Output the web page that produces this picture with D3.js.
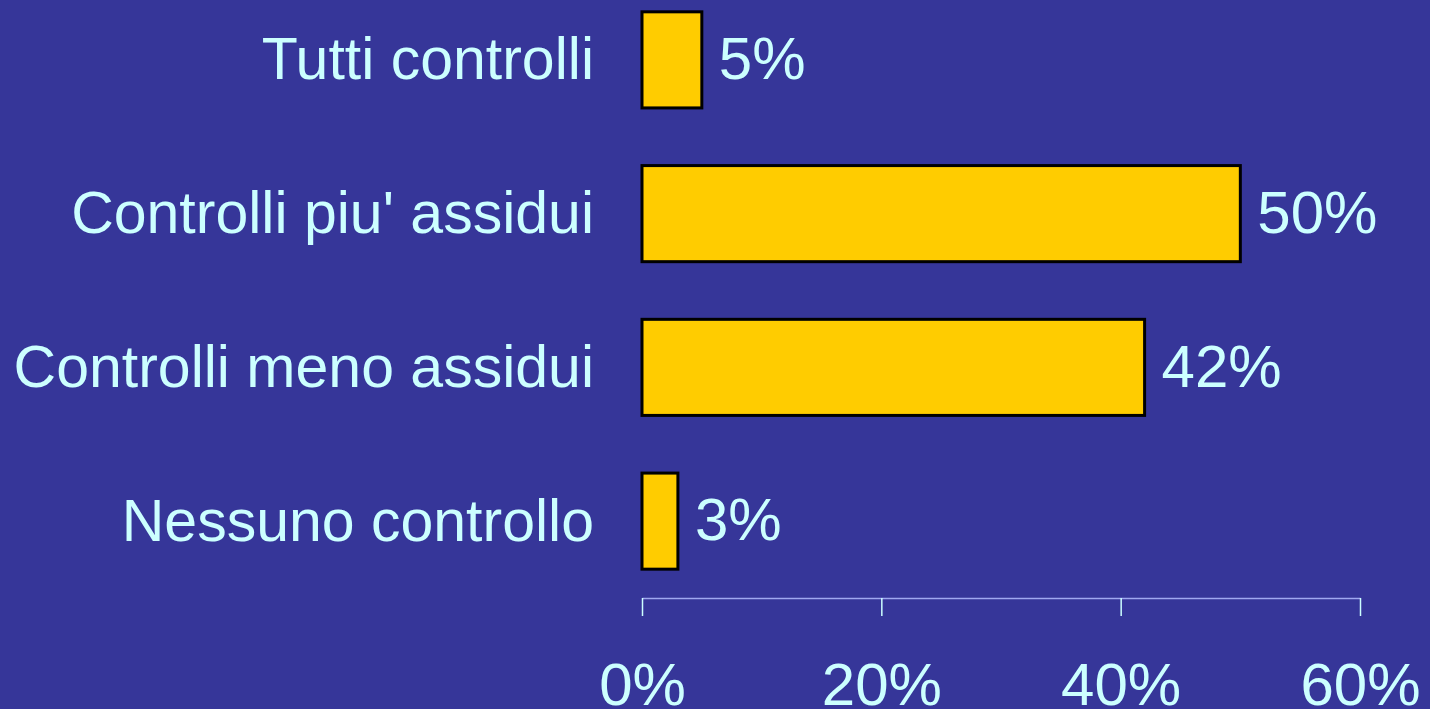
<!doctype html>
<html>
  <head>
    <meta charset="utf-8">
    <script src="https://cdn.jsdelivr.net/npm/d3@7"></script>
    <style>
      html, body { margin: 0; padding: 0; background: #363699; overflow: hidden; }
      text { font-family: "Liberation Sans", Arial, sans-serif; fill: #ccffff; }
    </style>
  </head>
  <body>
    <div id="chart"></div>
  </body>
  <script>
    var categories = ["Tutti controlli", "Controlli piu' assidui", "Controlli meno assidui", "Nessuno controllo"];
    var values = [5, 50, 42, 3];
    var ticks = [0, 20, 40, 60];

    var width = 1430,
      height = 709;

    var svg = d3.select("#chart")
                .append("svg")
                .attr("width", width)
                .attr("height", height);

    svg.append("rect")
       .attr("width", width)
       .attr("height", height)
       .attr("fill", "#363699");

    var x = d3.scaleLinear().domain([0, 60]).range([642, 1360]);
    var y = d3.scaleBand()
              .domain(categories)
              .range([-17, 598])
              .paddingInner(0.375)
              .paddingOuter(0.1875);

    var data = categories.map(function(c, i) { return { name: c, value: values[i] }; });

    // bars
    svg.selectAll("rect.bar")
       .data(data)
       .enter()
       .append("rect")
       .attr("class", "bar")
       .attr("x", x(0))
       .attr("y", function(d) { return y(d.name); })
       .attr("width", function(d) { return x(d.value) - x(0); })
       .attr("height", y.bandwidth())
       .attr("fill", "#ffcc00")
       .attr("stroke", "#000")
       .attr("stroke-width", 3);

    // value labels
    svg.selectAll("text.val")
       .data(data)
       .enter()
       .append("text")
       .attr("class", "val")
       .attr("x", function(d) { return x(d.value) + 17; })
       .attr("y", function(d) { return y(d.name) + y.bandwidth() / 2; })
       .attr("dy", "0.32em")
       .style("font-size", "60px")
       .text(function(d) { return d.value + "%"; });

    // category labels
    svg.selectAll("text.cat")
       .data(data)
       .enter()
       .append("text")
       .attr("class", "cat")
       .attr("x", 594)
       .attr("y", function(d) { return y(d.name) + y.bandwidth() / 2; })
       .attr("dy", "0.33em")
       .attr("text-anchor", "end")
       .style("font-size", "59px")
       .text(function(d) { return d.name; });

    // x axis
    var axis = svg.append("g")
                  .attr("transform", "translate(0," + 598 + ")")
                  .call(d3.axisBottom(x)
                          .tickValues(ticks)
                          .tickSize(18)
                          .tickSizeOuter(0)
                          .tickFormat(function(d) { return d + "%"; }));

    axis.select(".domain").attr("stroke", "#a0a8f0").attr("stroke-width", 1.5);
    axis.selectAll(".tick line").attr("stroke", "#ccffff").attr("stroke-width", 1.5);
    axis.selectAll(".tick text")
        .attr("y", 107)
        .attr("dy", 0)
        .attr("fill", "#ccffff")
        .style("font-size", "60px")
        .style("font-family", "'Liberation Sans', Arial, sans-serif");
  </script>
</html>
